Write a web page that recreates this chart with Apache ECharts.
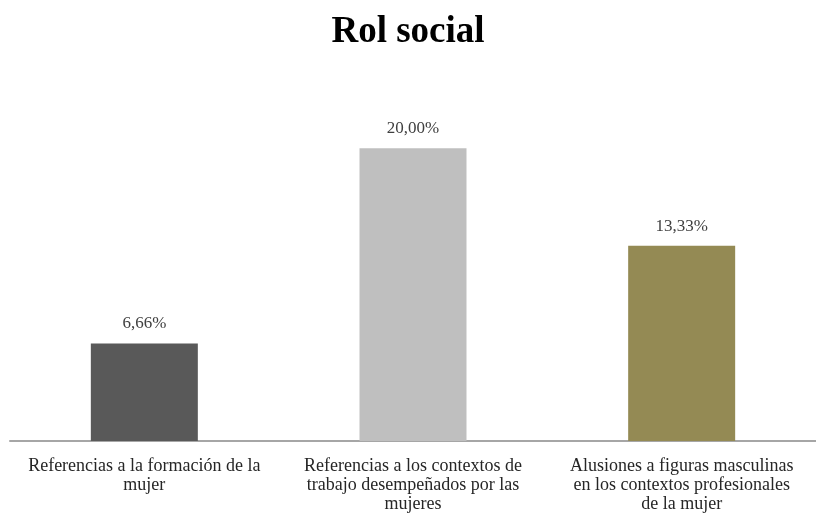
<!DOCTYPE html>
<html>
<head>
<meta charset="utf-8">
<script src="https://cdn.jsdelivr.net/npm/echarts@6/dist/echarts.min.js"></script>
<style>
  html, body { margin: 0; padding: 0; background: #fff; }
  #chart { width: 816px; height: 523px; }
</style>
</head>
<body>
<div id="chart"></div>
<script>
// categorías (con saltos de línea como en el original)
const categories = [
  'Referencias a la formación de la\nmujer',
  'Referencias a los contextos de\ntrabajo desempeñados por las\nmujeres',
  'Alusiones a figuras masculinas\nen los contextos profesionales\nde la mujer',
];
const values = [6.66, 20.0, 13.33];
const barColors = ['#595959', '#bfbfbf', '#948a54'];

const chart = echarts.init(document.getElementById('chart'));

chart.setOption({
  animation: false,
  title: {
    text: 'Rol social',
    left: 'center',
    top: 9,
    textStyle: {
      fontFamily: 'Liberation Serif',
      fontSize: 37,
      fontWeight: 'bold',
      color: '#000',
    },
  },
  grid: {
    left: 10,
    right: -3,
    top: 75,
    bottom: 82,
  },
  xAxis: {
    type: 'category',
    data: categories,
    axisTick: { show: false },
    axisLine: { lineStyle: { color: '#a6a6a6', width: 2 } },
    axisLabel: {
      interval: 0,
      margin: 16,
      fontFamily: 'Liberation Serif',
      fontSize: 18,
      lineHeight: 19,
      color: '#262626',
    },
  },
  yAxis: {
    type: 'value',
    min: 0,
    max: 25,
    show: false,
    splitLine: { show: false },
  },
  series: [{
    type: 'bar',
    barWidth: 107,
    data: values.map((v, i) => ({ value: v, itemStyle: { color: barColors[i] } })),
    label: {
      show: true,
      position: 'top',
      distance: 11,
      fontFamily: 'Liberation Serif',
      fontSize: 17,
      color: '#404040',
      formatter: (p) => p.value.toFixed(2).replace('.', ',') + '%',
    },
  }],
});
</script>
</body>
</html>
